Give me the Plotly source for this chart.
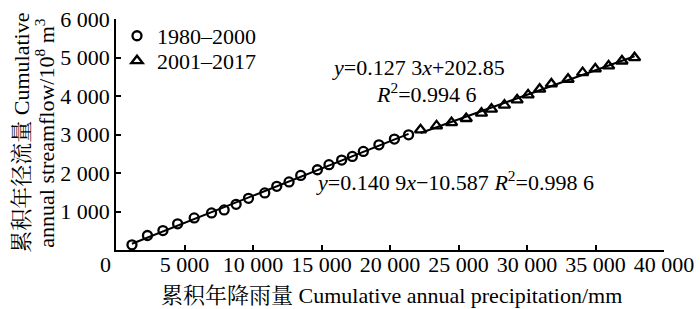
import numpy as np
import plotly.graph_objects as go

# Data
p1_x = [1166, 2296, 3426, 4497, 5707, 6975, 7894, 8768, 9672, 10860, 11735,
        12631, 13484, 14701, 15547, 16472, 17252, 18054, 19191, 20321, 21356]
p1_y = [135, 376, 505, 679, 834, 964, 1041, 1187, 1342, 1482, 1653,
        1767, 1938, 2085, 2215, 2337, 2430, 2560, 2733, 2881, 2992]
p2_x = [22230, 23397, 24490, 25562, 26676, 27405, 28353, 29278, 30080, 30925,
        31778, 32996, 34060, 34985, 35955, 36931, 37850]
p2_y = [3122, 3225, 3311, 3415, 3554, 3658, 3762, 3899, 4028, 4176,
        4313, 4435, 4606, 4702, 4780, 4909, 4995]

series_names = ["1980–2000", "2001–2017"]
x_ticks = [5000, 10000, 15000, 20000, 25000, 30000, 35000, 40000]
x_tick_labels = ["5 000", "10 000", "15 000", "20 000", "25 000", "30 000", "35 000", "40 000"]
y_ticks = [1000, 2000, 3000, 4000, 5000, 6000]
y_tick_labels = ["1 000", "2 000", "3 000", "4 000", "5 000", "6 000"]

FONT = "Liberation Serif, Noto Serif CJK SC, Noto Sans CJK SC, serif"
FS = 22
L, R, T, B = 116, 36, 19, 58.5
PW, PH = 700 - L - R, 309 - T - B

def fit_line(xs, ys):
    k, b = np.polyfit(xs, ys, 1)
    xe = np.array([min(xs), max(xs)])
    return xe, k * xe + b

def ppx(px):
    return (px - L) / PW

def ppy(py):
    return (309 - B - py) / PH

fig = go.Figure()
for xs, ys, name, sym, size, lg in [(p1_x, p1_y, series_names[0], "circle-open", 9, "legend"),
                                    (p2_x, p2_y, series_names[1], "triangle-up-open", 10, "legend2")]:
    lx, ly = fit_line(xs, ys)
    fig.add_trace(go.Scatter(x=lx, y=ly, mode="lines", line=dict(color="black", width=2),
                             showlegend=False, hoverinfo="skip"))
    fig.add_trace(go.Scatter(x=xs, y=ys, mode="markers", name=name, legend=lg,
                             marker=dict(symbol=sym, size=size,
                                         color="black", line=dict(width=2.3, color="black"))))

leg_common = dict(xanchor="left", yanchor="middle", bgcolor="rgba(0,0,0,0)",
                  font=dict(size=FS, color="black"), itemwidth=30)

fig.update_layout(
    width=700, height=309,
    margin=dict(l=L, r=R, t=T, b=B, autoexpand=False),
    paper_bgcolor="white", plot_bgcolor="white",
    font=dict(family=FONT, size=FS, color="black"),
    showlegend=True,
    legend=dict(x=ppx(117), y=ppy(36), **leg_common),
    legend2=dict(x=ppx(117), y=ppy(61), **leg_common),
    xaxis=dict(range=[0, 40000], showgrid=False, zeroline=False, automargin=False,
               showline=True, linecolor="black", linewidth=1.5,
               ticks="inside", ticklen=5, tickcolor="black", tickwidth=1.5,
               tickvals=x_ticks, ticktext=x_tick_labels,
               tickfont=dict(size=FS, color="black"), ticklabelstandoff=-6),
    yaxis=dict(range=[0, 6000], showgrid=False, zeroline=False, automargin=False,
               showline=True, linecolor="black", linewidth=1.5,
               ticks="inside", ticklen=5, tickcolor="black", tickwidth=1.5,
               tickvals=y_ticks, ticktext=y_tick_labels,
               tickfont=dict(size=FS, color="black")),
)

def ann(text, x, y, xanchor="left", angle=0):
    fig.add_annotation(x=x, y=y, xref="paper", yref="paper", text=text, showarrow=False,
                       xanchor=xanchor, yanchor="middle", textangle=angle,
                       font=dict(size=FS, color="black", family=FONT))

# origin label
ann("0", ppx(105), ppy(265), xanchor="center")
# axis titles
ann("累积年降雨量 Cumulative annual precipitation/mm", ppx(391), ppy(296), xanchor="center")
ann("累积年径流量 Cumulative", ppx(22), ppy(133), xanchor="center", angle=-90)
ann("annual streamflow/10<sup>8</sup> m<sup>3</sup>", ppx(45), ppy(133), xanchor="center", angle=-90)
# equations
ann("<i>y</i>=0.127 3<i>x</i>+202.85", ppx(330), ppy(68))
ann("<i>R</i><sup>2</sup>=0.994 6", ppx(374), ppy(93))
ann("<i>y</i>=0.140 9<i>x</i>−10.587 <i>R</i><sup>2</sup>=0.998 6", ppx(314), ppy(181))

fig.write_html("out.html", config={"displayModeBar": False},
               post_script="document.body.style.margin='0px';document.body.style.overflow='hidden';")
